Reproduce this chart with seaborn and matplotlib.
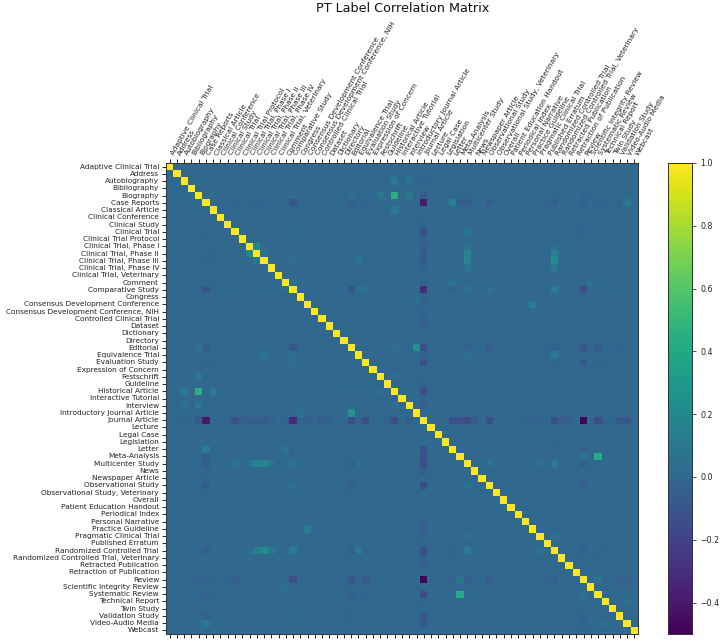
"""PT label correlation matrix, drawn as a seaborn heatmap."""

import matplotlib
matplotlib.use("Agg")  # headless-safe
import matplotlib.pyplot as plt
import numpy as np
import pandas as pd
import seaborn as sns

pt_labels = [
    "Adaptive Clinical Trial", "Address", "Autobiography", "Bibliography", "Biography",
    "Case Reports", "Classical Article", "Clinical Conference", "Clinical Study",
    "Clinical Trial", "Clinical Trial Protocol", "Clinical Trial, Phase I",
    "Clinical Trial, Phase II", "Clinical Trial, Phase III", "Clinical Trial, Phase IV",
    "Clinical Trial, Veterinary", "Comment", "Comparative Study", "Congress",
    "Consensus Development Conference", "Consensus Development Conference, NIH",
    "Controlled Clinical Trial", "Dataset", "Dictionary", "Directory", "Editorial",
    "Equivalence Trial", "Evaluation Study", "Expression of Concern", "Festschrift",
    "Guideline", "Historical Article", "Interactive Tutorial", "Interview",
    "Introductory Journal Article", "Journal Article", "Lecture", "Legal Case",
    "Legislation", "Letter", "Meta-Analysis", "Multicenter Study", "News",
    "Newspaper Article", "Observational Study", "Observational Study, Veterinary",
    "Overall", "Patient Education Handout", "Periodical Index", "Personal Narrative",
    "Practice Guideline", "Pragmatic Clinical Trial", "Published Erratum",
    "Randomized Controlled Trial", "Randomized Controlled Trial, Veterinary",
    "Retracted Publication", "Retraction of Publication", "Review",
    "Scientific Integrity Review", "Systematic Review", "Technical Report", "Twin Study",
    "Validation Study", "Video-Audio Media", "Webcast",
]

# Off-diagonal correlations, one list per anchor label
journal_article_corr = [
    ("Autobiography", -0.02), ("Biography", -0.07), ("Case Reports", -0.40),
    ("Clinical Study", -0.02), ("Clinical Trial", -0.13), ("Clinical Trial Protocol", -0.04),
    ("Clinical Trial, Phase I", -0.06), ("Clinical Trial, Phase II", -0.07),
    ("Clinical Trial, Phase III", -0.07), ("Clinical Trial, Phase IV", -0.03),
    ("Comment", -0.03), ("Comparative Study", -0.32), ("Congress", -0.03),
    ("Consensus Development Conference", -0.05), ("Controlled Clinical Trial", -0.05),
    ("Dataset", -0.04), ("Editorial", -0.16), ("Equivalence Trial", -0.03),
    ("Evaluation Study", -0.13), ("Guideline", -0.03), ("Historical Article", -0.16),
    ("Interview", -0.05), ("Letter", -0.13), ("Meta-Analysis", -0.13),
    ("Multicenter Study", -0.15), ("News", -0.06), ("Observational Study", -0.15),
    ("Personal Narrative", -0.03), ("Practice Guideline", -0.04),
    ("Pragmatic Clinical Trial", -0.03), ("Randomized Controlled Trial", -0.15),
    ("Randomized Controlled Trial, Veterinary", -0.06), ("Retracted Publication", -0.05),
    ("Review", -0.50), ("Systematic Review", -0.16), ("Technical Report", -0.03),
    ("Validation Study", -0.09), ("Video-Audio Media", -0.09),
]
case_reports_corr = [
    ("Clinical Trial", -0.02), ("Clinical Trial, Phase II", -0.02),
    ("Clinical Trial, Phase III", -0.02), ("Comparative Study", -0.10),
    ("Editorial", -0.06), ("Evaluation Study", -0.03), ("Letter", 0.15),
    ("Meta-Analysis", -0.05), ("Multicenter Study", -0.06), ("News", -0.02),
    ("Observational Study", -0.07), ("Randomized Controlled Trial", -0.06),
    ("Review", -0.04), ("Systematic Review", -0.04), ("Validation Study", -0.03),
    ("Video-Audio Media", 0.10),
]
historical_corr = [
    ("Autobiography", 0.12), ("Biography", 0.45), ("Classical Article", 0.12),
    ("Editorial", 0.04), ("Festschrift", 0.05), ("Interview", 0.05),
]
biography_corr = [
    ("Autobiography", 0.03), ("Classical Article", 0.03), ("Editorial", 0.06),
    ("Festschrift", 0.10), ("Interview", 0.10), ("Review", -0.02),
]
phase_corr = [
    ("Clinical Trial, Phase I", "Clinical Trial, Phase II", 0.20),
    ("Clinical Trial, Phase II", "Clinical Trial, Phase III", 0.07),
    ("Clinical Trial, Phase III", "Equivalence Trial", 0.08),
    ("Clinical Trial, Phase III", "Comparative Study", 0.03),
    ("Autobiography", "Interview", 0.08),
]
multicenter_corr = [
    ("Clinical Trial", 0.10), ("Clinical Trial, Phase I", 0.06),
    ("Clinical Trial, Phase II", 0.18), ("Clinical Trial, Phase III", 0.18),
    ("Clinical Trial, Phase IV", 0.08), ("Comparative Study", 0.08),
    ("Editorial", -0.05), ("Equivalence Trial", 0.04), ("Observational Study", 0.08),
    ("Pragmatic Clinical Trial", 0.05), ("Randomized Controlled Trial", 0.12),
    ("Review", -0.06), ("Validation Study", 0.02),
]
rct_corr = [
    ("Clinical Trial, Phase I", 0.05), ("Clinical Trial, Phase II", 0.15),
    ("Clinical Trial, Phase III", 0.22), ("Clinical Trial, Phase IV", 0.10),
    ("Comparative Study", 0.12), ("Editorial", -0.05), ("Equivalence Trial", 0.10),
    ("Evaluation Study", -0.03), ("Letter", -0.02), ("Pragmatic Clinical Trial", 0.06),
    ("Review", -0.05), ("Systematic Review", -0.02),
]
comparative_corr = [
    ("Clinical Trial", 0.03), ("Comment", 0.05), ("Editorial", -0.10),
    ("Equivalence Trial", 0.05), ("Evaluation Study", 0.05), ("Letter", -0.03),
    ("Observational Study", 0.06), ("Review", -0.14), ("Validation Study", 0.03),
]
review_corr = [
    ("Clinical Trial", -0.05), ("Editorial", -0.11), ("Evaluation Study", -0.08),
    ("Letter", -0.04), ("Meta-Analysis", 0.08), ("Observational Study", -0.05),
    ("Systematic Review", 0.07), ("Validation Study", -0.03), ("Video-Audio Media", -0.03),
]
other_corr = [
    ("Comment", "Letter", 0.08),
    ("Comment", "Scientific Integrity Review", 0.05),
    ("Congress", "Introductory Journal Article", 0.04),
    ("Consensus Development Conference", "Practice Guideline", 0.15),
    ("Editorial", "Introductory Journal Article", 0.27),
    ("Editorial", "Systematic Review", -0.06),
    ("Editorial", "Observational Study", -0.06),
    ("Editorial", "Validation Study", -0.03),
    ("Evaluation Study", "Systematic Review", -0.03),
    ("Meta-Analysis", "Systematic Review", 0.42),
    ("Technical Report", "Video-Audio Media", 0.04),
]

# Build the symmetric matrix from the lists above
corr = pd.DataFrame(np.eye(len(pt_labels)), index=pt_labels, columns=pt_labels)


def put(a, b, r):
    corr.loc[a, b] = r
    corr.loc[b, a] = r


for anchor, partners in [
    ("Journal Article", journal_article_corr),
    ("Case Reports", case_reports_corr),
    ("Historical Article", historical_corr),
    ("Biography", biography_corr),
    ("Multicenter Study", multicenter_corr),
    ("Randomized Controlled Trial", rct_corr),
    ("Comparative Study", comparative_corr),
    ("Review", review_corr),
]:
    for other, r in partners:
        put(anchor, other, r)
for a, b, r in phase_corr + other_corr:
    put(a, b, r)

sns.set_theme(style="white")

fig = plt.figure(figsize=(7.2, 6.42), dpi=100)
ax = fig.add_axes([166 / 720, 1 - 634 / 642, 472 / 720, 471 / 642])
cax = fig.add_axes([668 / 720, 1 - 634 / 642, 24 / 720, 471 / 642])

sns.heatmap(corr, ax=ax, cbar_ax=cax, cmap="viridis", vmin=-0.5, vmax=1.0,
            xticklabels=True, yticklabels=True)

ax.tick_params(axis="both", length=3, width=0.6, color="black", pad=2,
               top=True, bottom=True, left=True, labeltop=True, labelbottom=False)
ax.tick_params(axis="x", pad=4)
plt.setp(ax.get_xticklabels(), rotation=60, ha="left", va="top",
         rotation_mode="anchor", fontsize=5.3, color="#222222")
plt.setp(ax.get_yticklabels(), rotation=0, fontsize=5.3, color="#222222")
for spine in ax.spines.values():
    spine.set_visible(True)
    spine.set_linewidth(0.7)
    spine.set_color("#333333")

cax.tick_params(labelsize=5.7, length=3, width=0.6, color="#333333", pad=3, labelcolor="#222222")
cax.set_yticks(np.arange(-0.4, 1.01, 0.2))
for spine in cax.spines.values():
    spine.set_visible(True)
    spine.set_linewidth(0.7)
    spine.set_color("#333333")

fig.text(403 / 720, 1 - 8 / 642, "PT Label Correlation Matrix", ha="center", va="center",
         fontsize=9.2, color="#111111")

fig.savefig("out.png", dpi=100)
plt.close(fig)
